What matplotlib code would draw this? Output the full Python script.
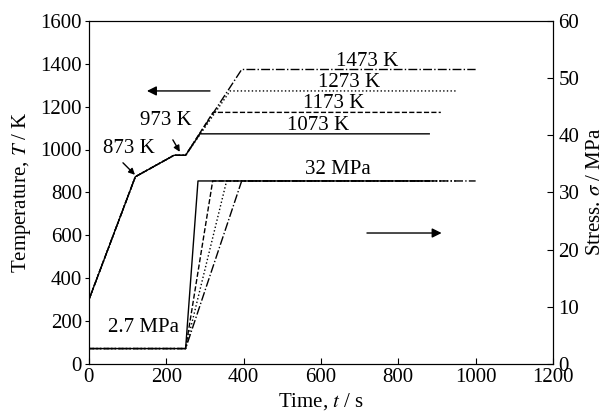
import matplotlib.pyplot as plt

plt.rcParams["font.family"] = ["Liberation Serif", "DejaVu Serif"]
plt.rcParams["mathtext.fontset"] = "stix"

# temperature history (left axis)
heat_t = [0, 120, 220, 250]
heat_T = [300, 873, 973, 973]
hold_T = [1073, 1173, 1273, 1373]
hold_start = [287, 321, 365, 395]
hold_end = [880, 910, 950, 1000]
hold_labels = ["1073 K", "1173 K", "1273 K", "1473 K"]
label_t = [592, 634, 672, 719]

# stress history (right axis)
low_t = [0, 250]
low_s = [2.7, 2.7]
high_s = 32
load_end = [282, 320, 356, 395]

styles = ["-", "--", ":", "-."]
fs = 15

fig = plt.figure(figsize=(6.05, 4.16), dpi=100)
ax = fig.add_axes([0.147, 0.125, 0.767, 0.825])
ax2 = ax.twinx()

for i in range(len(hold_T)):
    ax.plot(heat_t + [hold_start[i], hold_end[i]],
            heat_T + [hold_T[i], hold_T[i]],
            color="black", linestyle=styles[i], linewidth=1)
    ax.text(label_t[i], hold_T[i] - 5, hold_labels[i], ha="center",
            va="bottom", fontsize=fs)
    ax2.plot(low_t + [load_end[i], hold_end[i]],
             low_s + [high_s, high_s],
             color="black", linestyle=styles[i], linewidth=1)

small = dict(arrowstyle="-|>", color="black", lw=1, mutation_scale=9,
             shrinkA=0, shrinkB=0)
big = dict(arrowstyle="-|>", color="black", lw=1, mutation_scale=14,
           shrinkA=0, shrinkB=0)

ax.text(103, 1005, "873 K", ha="center", va="center", fontsize=fs)
ax.annotate("", xy=(119, 882), xytext=(88, 938), arrowprops=small)
ax.text(199, 1135, "973 K", ha="center", va="center", fontsize=fs)
ax.annotate("", xy=(235, 989), xytext=(217, 1045), arrowprops=small)
ax.annotate("", xy=(150, 1273), xytext=(313, 1273), arrowprops=big)
ax2.annotate("", xy=(912, 22.9), xytext=(719, 22.9), arrowprops=big)
ax2.text(645, 32.4, "32 MPa", ha="center", va="bottom", fontsize=fs)
ax2.text(140, 6.3, "2.7 MPa", ha="center", va="center", fontsize=fs)

ax.set_xlim(0, 1200)
ax.set_ylim(0, 1600)
ax2.set_ylim(0, 60)
ax.set_xticks(range(0, 1201, 200))
ax.set_yticks(range(0, 1601, 200))
ax2.set_yticks(range(0, 61, 10))

ax.tick_params(axis="x", direction="in", labelsize=fs, length=4, pad=3)
ax.tick_params(axis="y", direction="out", labelsize=fs, length=3, pad=2)
ax2.tick_params(axis="y", direction="in", labelsize=fs, length=4, pad=4)

ax.set_xlabel("Time, $t$ / s", fontsize=fs, labelpad=3)
ax.set_ylabel("Temperature, $T$ / K", fontsize=fs, labelpad=5)
ax2.set_ylabel("Stress. $\\sigma$ / MPa", fontsize=fs, labelpad=5)

fig.savefig("out.png", dpi=100)
